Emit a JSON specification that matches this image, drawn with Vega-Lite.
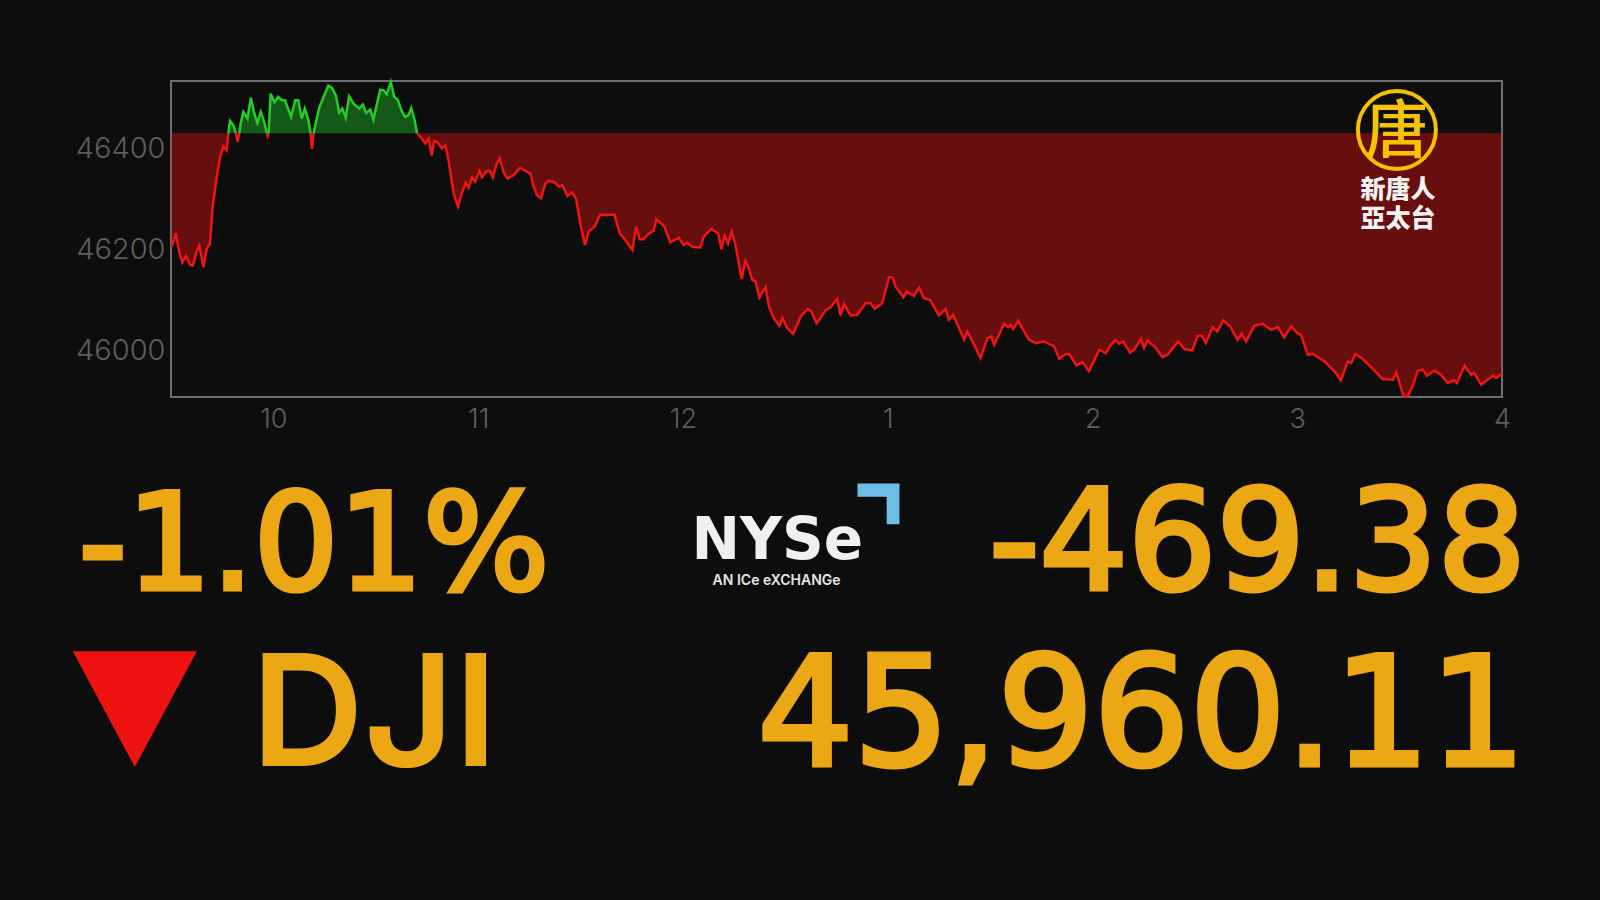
{"$schema":"https://vega.github.io/schema/vega-lite/v6.json","width":1331,"height":316,"autosize":{"type":"none"},"padding":{"left":171,"top":81,"right":98,"bottom":503},"background":"#0d0d0d","config":{"view":{"stroke":"#6e6e6e","strokeWidth":2},"legend":{"disable":true}},
"datasets":{"intraday":[
{"minute":0,"price":46205.6,"segment":1,"side":"below"},{"minute":0.4,"price":46208.8,"segment":1,"side":"below"},{"minute":1.4,"price":46231.8,"segment":1,"side":"below"},{"minute":2.4,"price":46195.6,"segment":1,"side":"below"},{"minute":3.3,"price":46174,"segment":1,"side":"below"},{"minute":4.4,"price":46187.1,"segment":1,"side":"below"},{"minute":5.6,"price":46169.4,"segment":1,"side":"below"},{"minute":6.4,"price":46168.1,"segment":1,"side":"below"},{"minute":7.5,"price":46195.6,"segment":1,"side":"below"},{"minute":8.3,"price":46207.5,"segment":1,"side":"below"},{"minute":9.5,"price":46164.8,"segment":1,"side":"below"},{"minute":10.5,"price":46202.2,"segment":1,"side":"below"},{"minute":11.4,"price":46210.8,"segment":1,"side":"below"},{"minute":12.2,"price":46284.3,"segment":1,"side":"below"},{"minute":13.4,"price":46343.4,"segment":1,"side":"below"},{"minute":14.4,"price":46382.8,"segment":1,"side":"below"},{"minute":15.3,"price":46403.8,"segment":1,"side":"below"},{"minute":16.3,"price":46396,"segment":1,"side":"below"},{"minute":16.8,"price":46429.49,"segment":1,"side":"below"},
{"minute":16.8,"price":46429.49,"segment":2,"side":"above"},{"minute":17.3,"price":46453.8,"segment":2,"side":"above"},{"minute":18.3,"price":46445.2,"segment":2,"side":"above"},{"minute":19,"price":46429.49,"segment":2,"side":"above"},
{"minute":19,"price":46429.49,"segment":3,"side":"below"},{"minute":19.5,"price":46412.4,"segment":3,"side":"below"},{"minute":20,"price":46429.49,"segment":3,"side":"below"},
{"minute":20,"price":46429.49,"segment":4,"side":"above"},{"minute":20.4,"price":46448.5,"segment":4,"side":"above"},{"minute":21.2,"price":46471.5,"segment":4,"side":"above"},{"minute":22.4,"price":46458.4,"segment":4,"side":"above"},{"minute":23.4,"price":46499.7,"segment":4,"side":"above"},{"minute":24.3,"price":46471.5,"segment":4,"side":"above"},{"minute":25.3,"price":46449.8,"segment":4,"side":"above"},{"minute":26.3,"price":46471.5,"segment":4,"side":"above"},{"minute":27.3,"price":46451.8,"segment":4,"side":"above"},{"minute":28.1,"price":46429.49,"segment":4,"side":"above"},
{"minute":28.1,"price":46429.49,"segment":5,"side":"below"},{"minute":28.3,"price":46424.2,"segment":5,"side":"below"},{"minute":28.6,"price":46429.49,"segment":5,"side":"below"},
{"minute":28.6,"price":46429.49,"segment":6,"side":"above"},{"minute":29.2,"price":46507.6,"segment":6,"side":"above"},{"minute":30.3,"price":46491.2,"segment":6,"side":"above"},{"minute":31.4,"price":46501.1,"segment":6,"side":"above"},{"minute":32.5,"price":46494.5,"segment":6,"side":"above"},{"minute":33.4,"price":46494.5,"segment":6,"side":"above"},{"minute":35.2,"price":46461.6,"segment":6,"side":"above"},{"minute":36.4,"price":46494.5,"segment":6,"side":"above"},{"minute":37.3,"price":46494.5,"segment":6,"side":"above"},{"minute":38.3,"price":46458.4,"segment":6,"side":"above"},{"minute":39.2,"price":46478.1,"segment":6,"side":"above"},{"minute":40.3,"price":46455.1,"segment":6,"side":"above"},{"minute":40.9,"price":46429.49,"segment":6,"side":"above"},
{"minute":40.9,"price":46429.49,"segment":7,"side":"below"},{"minute":41.3,"price":46398.6,"segment":7,"side":"below"},{"minute":41.8,"price":46429.49,"segment":7,"side":"below"},
{"minute":41.8,"price":46429.49,"segment":8,"side":"above"},{"minute":42.5,"price":46451.8,"segment":8,"side":"above"},{"minute":43.5,"price":46481.4,"segment":8,"side":"above"},{"minute":44.7,"price":46501.1,"segment":8,"side":"above"},{"minute":46.1,"price":46523.4,"segment":8,"side":"above"},{"minute":47.1,"price":46519.4,"segment":8,"side":"above"},{"minute":48.3,"price":46504.3,"segment":8,"side":"above"},{"minute":49.3,"price":46470.2,"segment":8,"side":"above"},{"minute":50.2,"price":46478.1,"segment":8,"side":"above"},{"minute":51.2,"price":46459.7,"segment":8,"side":"above"},{"minute":52.2,"price":46502.4,"segment":8,"side":"above"},{"minute":53.5,"price":46487.9,"segment":8,"side":"above"},{"minute":55.2,"price":46478.1,"segment":8,"side":"above"},{"minute":56.2,"price":46485.9,"segment":8,"side":"above"},{"minute":57.2,"price":46469.5,"segment":8,"side":"above"},{"minute":58.4,"price":46476.1,"segment":8,"side":"above"},{"minute":59.3,"price":46456.4,"segment":8,"side":"above"},{"minute":61.3,"price":46515.5,"segment":8,"side":"above"},{"minute":62.3,"price":46514.2,"segment":8,"side":"above"},{"minute":63.2,"price":46506.3,"segment":8,"side":"above"},{"minute":64.4,"price":46530.6,"segment":8,"side":"above"},{"minute":65.4,"price":46501.1,"segment":8,"side":"above"},{"minute":66.4,"price":46495.8,"segment":8,"side":"above"},{"minute":67.6,"price":46473.5,"segment":8,"side":"above"},{"minute":68.6,"price":46461.6,"segment":8,"side":"above"},{"minute":69.6,"price":46464.9,"segment":8,"side":"above"},{"minute":70.4,"price":46479.4,"segment":8,"side":"above"},{"minute":71.4,"price":46455.1,"segment":8,"side":"above"},{"minute":72.1,"price":46429.49,"segment":8,"side":"above"},
{"minute":72.1,"price":46429.49,"segment":9,"side":"below"},{"minute":73.5,"price":46419,"segment":9,"side":"below"},{"minute":74.5,"price":46409.1,"segment":9,"side":"below"},{"minute":75.5,"price":46419,"segment":9,"side":"below"},{"minute":76.4,"price":46385.5,"segment":9,"side":"below"},{"minute":77.1,"price":46414.4,"segment":9,"side":"below"},{"minute":77.9,"price":46412.4,"segment":9,"side":"below"},{"minute":79.4,"price":46399.3,"segment":9,"side":"below"},{"minute":80.4,"price":46405.8,"segment":9,"side":"below"},{"minute":81.3,"price":46376.3,"segment":9,"side":"below"},{"minute":82.8,"price":46310.6,"segment":9,"side":"below"},{"minute":84.1,"price":46284.3,"segment":9,"side":"below"},{"minute":85.2,"price":46310.6,"segment":9,"side":"below"},{"minute":86.4,"price":46331.6,"segment":9,"side":"below"},{"minute":87.2,"price":46321.8,"segment":9,"side":"below"},{"minute":88.2,"price":46342.1,"segment":9,"side":"below"},{"minute":89.1,"price":46333.6,"segment":9,"side":"below"},{"minute":90.4,"price":46354.6,"segment":9,"side":"below"},{"minute":91.1,"price":46342.1,"segment":9,"side":"below"},{"minute":92.6,"price":46355.2,"segment":9,"side":"below"},{"minute":93.5,"price":46354.6,"segment":9,"side":"below"},{"minute":94.3,"price":46342.1,"segment":9,"side":"below"},{"minute":95.3,"price":46366.4,"segment":9,"side":"below"},{"minute":96.3,"price":46379.6,"segment":9,"side":"below"},{"minute":97.5,"price":46351.3,"segment":9,"side":"below"},{"minute":98.6,"price":46340.1,"segment":9,"side":"below"},{"minute":100.4,"price":46346.7,"segment":9,"side":"below"},{"minute":102.3,"price":46361.2,"segment":9,"side":"below"},{"minute":103.8,"price":46355.2,"segment":9,"side":"below"},{"minute":105.3,"price":46350,"segment":9,"side":"below"},{"minute":106.3,"price":46323.7,"segment":9,"side":"below"},{"minute":107.2,"price":46307.3,"segment":9,"side":"below"},{"minute":108.4,"price":46300.7,"segment":9,"side":"below"},{"minute":109.7,"price":46330.3,"segment":9,"side":"below"},{"minute":110.7,"price":46335.6,"segment":9,"side":"below"},{"minute":112.6,"price":46331.6,"segment":9,"side":"below"},{"minute":113.6,"price":46323.7,"segment":9,"side":"below"},{"minute":114.6,"price":46327,"segment":9,"side":"below"},{"minute":116.2,"price":46305.3,"segment":9,"side":"below"},{"minute":117.5,"price":46312.6,"segment":9,"side":"below"},{"minute":118.7,"price":46300.7,"segment":9,"side":"below"},{"minute":120.1,"price":46244.9,"segment":9,"side":"below"},{"minute":121.3,"price":46208.8,"segment":9,"side":"below"},{"minute":122.4,"price":46235.1,"segment":9,"side":"below"},{"minute":124.3,"price":46246.2,"segment":9,"side":"below"},{"minute":125.6,"price":46267.9,"segment":9,"side":"below"},{"minute":127.8,"price":46267.9,"segment":9,"side":"below"},{"minute":129.9,"price":46269.2,"segment":9,"side":"below"},{"minute":131.5,"price":46231.8,"segment":9,"side":"below"},{"minute":133.1,"price":46218.6,"segment":9,"side":"below"},{"minute":135.2,"price":46198.9,"segment":9,"side":"below"},{"minute":136.3,"price":46244.9,"segment":9,"side":"below"},{"minute":137.3,"price":46219.9,"segment":9,"side":"below"},{"minute":138.5,"price":46219.9,"segment":9,"side":"below"},{"minute":140,"price":46231.8,"segment":9,"side":"below"},{"minute":141.4,"price":46236.4,"segment":9,"side":"below"},{"minute":142.2,"price":46259.4,"segment":9,"side":"below"},{"minute":143.4,"price":46252.8,"segment":9,"side":"below"},{"minute":144.6,"price":46244.9,"segment":9,"side":"below"},{"minute":146.3,"price":46214,"segment":9,"side":"below"},{"minute":148.8,"price":46223.2,"segment":9,"side":"below"},{"minute":150.2,"price":46208.8,"segment":9,"side":"below"},{"minute":151.2,"price":46213.4,"segment":9,"side":"below"},{"minute":152.7,"price":46205.5,"segment":9,"side":"below"},{"minute":155.1,"price":46203.6,"segment":9,"side":"below"},{"minute":156.1,"price":46225.2,"segment":9,"side":"below"},{"minute":158.3,"price":46240.3,"segment":9,"side":"below"},{"minute":160.3,"price":46231.8,"segment":9,"side":"below"},{"minute":161.3,"price":46200.2,"segment":9,"side":"below"},{"minute":162.2,"price":46227.2,"segment":9,"side":"below"},{"minute":163.2,"price":46212.1,"segment":9,"side":"below"},{"minute":164.3,"price":46235.1,"segment":9,"side":"below"},{"minute":165.4,"price":46208.8,"segment":9,"side":"below"},{"minute":167.2,"price":46141.8,"segment":9,"side":"below"},{"minute":168.3,"price":46177.3,"segment":9,"side":"below"},{"minute":169.3,"price":46162.8,"segment":9,"side":"below"},{"minute":170.3,"price":46139.8,"segment":9,"side":"below"},{"minute":171.3,"price":46136.5,"segment":9,"side":"below"},{"minute":172.4,"price":46105,"segment":9,"side":"below"},{"minute":174.2,"price":46125.4,"segment":9,"side":"below"},{"minute":175.2,"price":46087.3,"segment":9,"side":"below"},{"minute":176.6,"price":46064.3,"segment":9,"side":"below"},{"minute":178.3,"price":46049.2,"segment":9,"side":"below"},{"minute":179.2,"price":46064.3,"segment":9,"side":"below"},{"minute":180.5,"price":46044.6,"segment":9,"side":"below"},{"minute":182.3,"price":46033.4,"segment":9,"side":"below"},{"minute":184.5,"price":46067.6,"segment":9,"side":"below"},{"minute":186.6,"price":46082.7,"segment":9,"side":"below"},{"minute":187.6,"price":46077.4,"segment":9,"side":"below"},{"minute":189.2,"price":46054.4,"segment":9,"side":"below"},{"minute":191.8,"price":46079.4,"segment":9,"side":"below"},{"minute":193.3,"price":46086,"segment":9,"side":"below"},{"minute":195.2,"price":46102.4,"segment":9,"side":"below"},{"minute":196.2,"price":46069.6,"segment":9,"side":"below"},{"minute":197.2,"price":46092.5,"segment":9,"side":"below"},{"minute":199.1,"price":46069.6,"segment":9,"side":"below"},{"minute":201.1,"price":46070.9,"segment":9,"side":"below"},{"minute":203.5,"price":46093.8,"segment":9,"side":"below"},{"minute":205,"price":46093.8,"segment":9,"side":"below"},{"minute":206.2,"price":46082.7,"segment":9,"side":"below"},{"minute":208.4,"price":46093.8,"segment":9,"side":"below"},{"minute":210.4,"price":46145.1,"segment":9,"side":"below"},{"minute":211.4,"price":46145.1,"segment":9,"side":"below"},{"minute":212.3,"price":46126.7,"segment":9,"side":"below"},{"minute":214.6,"price":46105.7,"segment":9,"side":"below"},{"minute":215.6,"price":46116.8,"segment":9,"side":"below"},{"minute":217.7,"price":46108.3,"segment":9,"side":"below"},{"minute":219.2,"price":46124.7,"segment":9,"side":"below"},{"minute":220.6,"price":46103.7,"segment":9,"side":"below"},{"minute":222.4,"price":46100.4,"segment":9,"side":"below"},{"minute":225,"price":46069.6,"segment":9,"side":"below"},{"minute":227,"price":46082.7,"segment":9,"side":"below"},{"minute":227.9,"price":46061,"segment":9,"side":"below"},{"minute":229.2,"price":46070.9,"segment":9,"side":"below"},{"minute":232.4,"price":46021.6,"segment":9,"side":"below"},{"minute":233.3,"price":46038,"segment":9,"side":"below"},{"minute":235.1,"price":46015,"segment":9,"side":"below"},{"minute":237.2,"price":45985.5,"segment":9,"side":"below"},{"minute":239.2,"price":46024.9,"segment":9,"side":"below"},{"minute":240.4,"price":46028.2,"segment":9,"side":"below"},{"minute":241.2,"price":46011.7,"segment":9,"side":"below"},{"minute":244.1,"price":46053.1,"segment":9,"side":"below"},{"minute":245.3,"price":46046.6,"segment":9,"side":"below"},{"minute":246,"price":46051.1,"segment":9,"side":"below"},{"minute":246.8,"price":46042.6,"segment":9,"side":"below"},{"minute":248.2,"price":46059,"segment":9,"side":"below"},{"minute":251.4,"price":46021.6,"segment":9,"side":"below"},{"minute":253.4,"price":46015,"segment":9,"side":"below"},{"minute":255.8,"price":46018.3,"segment":9,"side":"below"},{"minute":258.8,"price":46008.5,"segment":9,"side":"below"},{"minute":260.2,"price":45984.2,"segment":9,"side":"below"},{"minute":262.2,"price":45993.4,"segment":9,"side":"below"},{"minute":263.2,"price":45993.4,"segment":9,"side":"below"},{"minute":265.3,"price":45971,"segment":9,"side":"below"},{"minute":267.1,"price":45977.6,"segment":9,"side":"below"},{"minute":269,"price":45959.2,"segment":9,"side":"below"},{"minute":272,"price":46001.9,"segment":9,"side":"below"},{"minute":273.9,"price":45995.3,"segment":9,"side":"below"},{"minute":275.4,"price":46011.7,"segment":9,"side":"below"},{"minute":276.8,"price":46021.6,"segment":9,"side":"below"},{"minute":277.8,"price":46013.7,"segment":9,"side":"below"},{"minute":279,"price":46018.3,"segment":9,"side":"below"},{"minute":281,"price":45996.6,"segment":9,"side":"below"},{"minute":282.2,"price":46001.9,"segment":9,"side":"below"},{"minute":284.2,"price":46022.9,"segment":9,"side":"below"},{"minute":285.1,"price":46005.2,"segment":9,"side":"below"},{"minute":286.1,"price":46020.3,"segment":9,"side":"below"},{"minute":288.6,"price":46005.2,"segment":9,"side":"below"},{"minute":290.5,"price":45987.4,"segment":9,"side":"below"},{"minute":292,"price":45992,"segment":9,"side":"below"},{"minute":295.1,"price":46018.3,"segment":9,"side":"below"},{"minute":296.9,"price":46003.2,"segment":9,"side":"below"},{"minute":299.3,"price":46000.6,"segment":9,"side":"below"},{"minute":300.8,"price":46029.5,"segment":9,"side":"below"},{"minute":302.1,"price":46029.5,"segment":9,"side":"below"},{"minute":303.2,"price":46015,"segment":9,"side":"below"},{"minute":305.2,"price":46046.6,"segment":9,"side":"below"},{"minute":306.6,"price":46038,"segment":9,"side":"below"},{"minute":308.3,"price":46059.7,"segment":9,"side":"below"},{"minute":310.4,"price":46047.9,"segment":9,"side":"below"},{"minute":312.5,"price":46021.6,"segment":9,"side":"below"},{"minute":313.7,"price":46033.4,"segment":9,"side":"below"},{"minute":315,"price":46018.3,"segment":9,"side":"below"},{"minute":317.4,"price":46049.2,"segment":9,"side":"below"},{"minute":319.9,"price":46053.1,"segment":9,"side":"below"},{"minute":322.3,"price":46041.3,"segment":9,"side":"below"},{"minute":324.3,"price":46046.6,"segment":9,"side":"below"},{"minute":326.2,"price":46026.2,"segment":9,"side":"below"},{"minute":328.2,"price":46047.9,"segment":9,"side":"below"},{"minute":330.1,"price":46034.7,"segment":9,"side":"below"},{"minute":331.1,"price":46031.4,"segment":9,"side":"below"},{"minute":333.1,"price":45992,"segment":9,"side":"below"},{"minute":334.5,"price":45994,"segment":9,"side":"below"},{"minute":338,"price":45978.9,"segment":9,"side":"below"},{"minute":340.9,"price":45959.2,"segment":9,"side":"below"},{"minute":342.8,"price":45941.5,"segment":9,"side":"below"},{"minute":344.8,"price":45978.9,"segment":9,"side":"below"},{"minute":345.8,"price":45975.6,"segment":9,"side":"below"},{"minute":347,"price":45993.4,"segment":9,"side":"below"},{"minute":349.2,"price":45983.5,"segment":9,"side":"below"},{"minute":352.6,"price":45961.2,"segment":9,"side":"below"},{"minute":355,"price":45944.1,"segment":9,"side":"below"},{"minute":358,"price":45942.8,"segment":9,"side":"below"},{"minute":359,"price":45957.2,"segment":9,"side":"below"},{"minute":361.2,"price":45909.9,"segment":9,"side":"below"},{"minute":362.4,"price":45909.9,"segment":9,"side":"below"},{"minute":363.8,"price":45929.6,"segment":9,"side":"below"},{"minute":365.3,"price":45960.5,"segment":9,"side":"below"},{"minute":366.8,"price":45962.5,"segment":9,"side":"below"},{"minute":368,"price":45950.7,"segment":9,"side":"below"},{"minute":370.2,"price":45960.5,"segment":9,"side":"below"},{"minute":372.1,"price":45952.6,"segment":9,"side":"below"},{"minute":374.1,"price":45936.2,"segment":9,"side":"below"},{"minute":376,"price":45941.5,"segment":9,"side":"below"},{"minute":376.8,"price":45936.2,"segment":9,"side":"below"},{"minute":379,"price":45970.4,"segment":9,"side":"below"},{"minute":380.9,"price":45952.6,"segment":9,"side":"below"},{"minute":381.9,"price":45955.9,"segment":9,"side":"below"},{"minute":383.9,"price":45932.9,"segment":9,"side":"below"},{"minute":387.3,"price":45950.7,"segment":9,"side":"below"},{"minute":388.3,"price":45946.1,"segment":9,"side":"below"},{"minute":390,"price":45954.6,"segment":9,"side":"below"}
],
"labels":[{"id":"pct","label":"-1.01%"},{"id":"chg","label":"-469.38"},{"id":"idx","label":"DJI"},{"id":"val","label":"45,960.11"},{"id":"nyse","label":"NYSe"},{"id":"ice","label":"AN ICe eXCHANGe"},{"id":"tang","label":"唐"},{"id":"ntd1","label":"新唐人"},{"id":"ntd2","label":"亞太台"}]},
"layer":[
{"data":{"name":"intraday"},"mark":{"type":"area","opacity":0.4,"interpolate":"linear"},"encoding":{
"x":{"field":"minute","type":"quantitative","scale":{"domain":[0,390],"nice":false,"zero":false},"axis":{"values":[30,90,150,210,270,330,390],"labelExpr":"(9.5+datum.value/60-1)%12+1","title":null,"grid":false,"ticks":false,"domain":false,"labelFont":"Inter","labelFontWeight":300,"labelFontSize":27,"labelColor":"#5e5e5e","labelPadding":9,"labelFlush":false,"labelOverlap":false}},
"y":{"field":"price","type":"quantitative","stack":null,"scale":{"domain":[45908.6,46532.6],"nice":false,"zero":false},"axis":{"values":[46000,46200,46400],"format":"d","title":null,"grid":false,"ticks":false,"domain":false,"labelFont":"Inter","labelFontWeight":300,"labelFontSize":29,"labelColor":"#5e5e5e","labelPadding":6}},
"y2":{"datum":46429.49},
"detail":{"field":"segment","type":"nominal"},
"color":{"field":"side","type":"nominal","scale":{"domain":["above","below"],"range":["#24cc2a","#f01414"]},"legend":null}}},
{"data":{"name":"intraday"},"mark":{"type":"line","strokeWidth":2.5,"interpolate":"linear"},"encoding":{
"x":{"field":"minute","type":"quantitative"},"y":{"field":"price","type":"quantitative"},"detail":{"field":"segment","type":"nominal"},"color":{"field":"side","type":"nominal","legend":null}}},
{"data":{"values":[{"id":"ring"}]},"mark":{"type":"point","shape":"circle","filled":false,"stroke":"#f2c200","strokeWidth":4,"size":6080,"opacity":1},"encoding":{"x":{"datum":359.2,"type":"quantitative"},"y":{"datum":46435.8,"type":"quantitative"}}},
{"data":{"name":"labels"},"transform":[{"filter":"datum.id=='tang'"}],"mark":{"type":"text","font":"Noto Sans CJK TC","fontWeight":500,"fontSize":63,"color":"#f5c400","align":"center","baseline":"middle"},"encoding":{"x":{"datum":359.2,"type":"quantitative"},"y":{"datum":46430,"type":"quantitative"},"text":{"field":"label"}}},
{"data":{"name":"labels"},"transform":[{"filter":"datum.id=='ntd1'"}],"mark":{"type":"text","font":"Noto Sans CJK TC","fontWeight":900,"fontSize":25,"color":"#f2f2f2","align":"center","baseline":"middle"},"encoding":{"x":{"datum":359.5,"type":"quantitative"},"y":{"datum":46317,"type":"quantitative"},"text":{"field":"label"}}},
{"data":{"name":"labels"},"transform":[{"filter":"datum.id=='ntd2'"}],"mark":{"type":"text","font":"Noto Sans CJK TC","fontWeight":900,"fontSize":25,"color":"#f2f2f2","align":"center","baseline":"middle"},"encoding":{"x":{"datum":359.5,"type":"quantitative"},"y":{"datum":46260,"type":"quantitative"},"text":{"field":"label"}}},
{"data":{"name":"labels"},"transform":[{"filter":"datum.id=='pct'"}],"mark":{"type":"text","font":"DejaVu Sans","fontSize":133,"color":"#eba814","stroke":"#eba814","strokeWidth":5,"align":"left","baseline":"alphabetic"},"encoding":{"x":{"datum":-27,"type":"quantitative"},"y":{"datum":45530,"type":"quantitative"},"text":{"field":"label"}}},
{"data":{"name":"labels"},"transform":[{"filter":"datum.id=='chg'"}],"mark":{"type":"text","font":"DejaVu Sans","fontSize":139,"color":"#eba814","stroke":"#eba814","strokeWidth":5,"align":"right","baseline":"alphabetic"},"encoding":{"x":{"datum":397,"type":"quantitative"},"y":{"datum":45530,"type":"quantitative"},"text":{"field":"label"}}},
{"data":{"name":"labels"},"transform":[{"filter":"datum.id=='idx'"}],"mark":{"type":"text","font":"Inter","fontWeight":600,"fontSize":156,"color":"#eba814","align":"left","baseline":"alphabetic"},"encoding":{"x":{"datum":23.5,"type":"quantitative"},"y":{"datum":45180,"type":"quantitative"},"text":{"field":"label"}}},
{"data":{"name":"labels"},"transform":[{"filter":"datum.id=='val'"}],"mark":{"type":"text","font":"DejaVu Sans","fontSize":151,"color":"#eba814","stroke":"#eba814","strokeWidth":5,"align":"right","baseline":"alphabetic"},"encoding":{"x":{"datum":397,"type":"quantitative"},"y":{"datum":45182,"type":"quantitative"},"text":{"field":"label"}}},
{"data":{"values":[{"id":"down"}]},"mark":{"type":"point","shape":"M-1,-0.935L1,-0.935L0,0.935Z","filled":true,"fill":"#ee1310","strokeWidth":0,"size":15376,"opacity":1},"encoding":{"x":{"datum":-10.6,"type":"quantitative"},"y":{"datum":45292.3,"type":"quantitative"}}},
{"data":{"name":"labels"},"transform":[{"filter":"datum.id=='nyse'"}],"mark":{"type":"text","font":"DejaVu Sans","fontWeight":"bold","fontSize":58,"color":"#f0f0f0","align":"left","baseline":"alphabetic"},"encoding":{"x":{"datum":152.5,"type":"quantitative"},"y":{"datum":45588.6,"type":"quantitative"},"text":{"field":"label"}}},
{"data":{"name":"labels"},"transform":[{"filter":"datum.id=='ice'"}],"mark":{"type":"text","font":"Inter","fontWeight":600,"fontSize":14,"color":"#e6e6e6","align":"left","baseline":"alphabetic"},"encoding":{"x":{"datum":158.7,"type":"quantitative"},"y":{"datum":45537.2,"type":"quantitative"},"text":{"field":"label"}}},
{"data":{"values":[{"id":"corner"}]},"mark":{"type":"point","shape":"M-1,-1L1,-1L1,0.94L0.39,0.94L0.39,-0.37L-1,-0.37Z","filled":true,"fill":"#6dbde6","strokeWidth":0,"size":1764,"opacity":1},"encoding":{"x":{"datum":207.3,"type":"quantitative"},"y":{"datum":45696.2,"type":"quantitative"}}}
]}
